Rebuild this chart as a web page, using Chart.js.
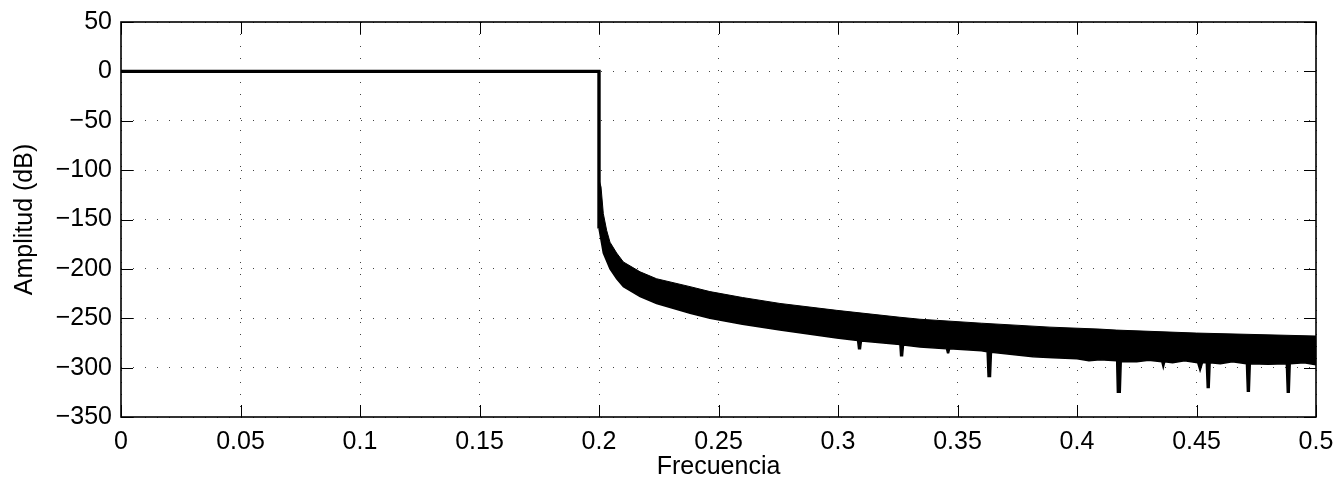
<!DOCTYPE html>
<html>
<head>
<meta charset="utf-8">
<script src="https://cdn.jsdelivr.net/npm/chart.js@4.4.1/dist/chart.umd.min.js"></script>
<style>
  html, body { margin: 0; padding: 0; background: #ffffff; }
  #wrap { width: 1335px; height: 484px; position: relative; }
</style>
</head>
<body>
<div id="wrap"><canvas id="c" width="1335" height="484"></canvas></div>
<script>
// ---- data ----
const xTicks = [0, 0.05, 0.1, 0.15, 0.2, 0.25, 0.3, 0.35, 0.4, 0.45, 0.5];
const xTickLabels = ['0', '0.05', '0.1', '0.15', '0.2', '0.25', '0.3', '0.35', '0.4', '0.45', '0.5'];
const yTicks = [50, 0, -50, -100, -150, -200, -250, -300, -350];
const yTickLabels = ['50', '0', '\u221250', '\u2212100', '\u2212150', '\u2212200', '\u2212250', '\u2212300', '\u2212350'];

// pass band (flat 0 dB) and the vertical drop at the cutoff
const passFreq = [0, 0.2, 0.2];
const passDb   = [0, 0, -159];

// upper envelope of the stop-band ripple
const upperFreq = [0.2, 0.20084, 0.2018, 0.2032, 0.2046, 0.2074, 0.2102, 0.2172, 0.2241, 0.2381, 0.2464, 0.26, 0.2757, 0.2995, 0.3259, 0.3343, 0.36, 0.3887, 0.4096, 0.4166, 0.45, 0.5];
const upperDb   = [-110, -117, -144, -161, -173, -184, -193, -203, -210, -218, -223, -229, -235, -242, -249, -251, -255, -259, -261, -262, -265, -268];

// lower envelope of the stop-band ripple (with the deep notches)
const lowerFreq = [0.2, 0.2018, 0.2046, 0.2074, 0.2102, 0.2172, 0.2241, 0.2381, 0.2464, 0.26, 0.2757, 0.2995,
  0.3082, 0.3086, 0.3094, 0.3098, 0.3259, 0.3262, 0.327, 0.3274, 0.3343, 0.3454, 0.3458, 0.3463, 0.3467, 0.36,
  0.3624, 0.3628, 0.3638, 0.3642, 0.3816, 0.39, 0.40, 0.405, 0.4096, 0.4166, 0.4169, 0.4173, 0.4181, 0.4185,
  0.425, 0.43, 0.4355, 0.4361, 0.4367, 0.44, 0.445, 0.4505, 0.4515, 0.4525, 0.4541, 0.4545, 0.4553, 0.4557,
  0.46, 0.465, 0.4709, 0.4713, 0.4721, 0.4725, 0.48, 0.4876, 0.488, 0.4888, 0.4892, 0.495, 0.5];
const lowerDb = [-159, -184, -200, -210, -218, -228, -235, -245, -250, -256, -262, -270,
  -272.5, -281, -281, -273, -276.5, -288, -288, -277, -279, -281, -285, -285, -281, -283,
  -284, -309, -309, -284.5, -289, -290, -291, -293, -292, -293, -325, -325, -325, -294,
  -294, -292.5, -294, -300, -294, -295, -293, -295, -303, -295, -295, -320, -320, -295,
  -296, -294, -296, -324, -324, -296, -296.5, -296, -325, -325, -296, -295, -297];

const pts = (xs, ys) => xs.map((x, i) => ({ x: x, y: ys[i] }));

const FONT = '"Liberation Sans", Arial, Helvetica, sans-serif';

// box + inward tick marks, MATLAB style
const boxPlugin = {
  id: 'matlabBox',
  afterDraw(chart) {
    const { ctx, chartArea: a, scales } = chart;
    ctx.save();
    ctx.strokeStyle = '#000';
    ctx.lineWidth = 1;
    const tl = 12;
    ctx.beginPath();
    xTicks.forEach(v => {
      const px = Math.round(scales.x.getPixelForValue(v)) + 0.5;
      ctx.moveTo(px, a.bottom); ctx.lineTo(px, a.bottom - tl);
      ctx.moveTo(px, a.top); ctx.lineTo(px, a.top + tl);
    });
    yTicks.forEach(v => {
      const py = Math.round(scales.y.getPixelForValue(v)) + 0.5;
      ctx.moveTo(a.left, py); ctx.lineTo(a.left + tl, py);
      ctx.moveTo(a.right, py); ctx.lineTo(a.right - tl, py);
    });
    ctx.stroke();
    ctx.lineWidth = 1.6;
    ctx.strokeRect(a.left, a.top, a.right - a.left, a.bottom - a.top);
    ctx.restore();
  }
};

new Chart(document.getElementById('c'), {
  type: 'line',
  data: {
    datasets: [
      { data: pts(passFreq, passDb), borderColor: '#000', borderWidth: 3.4, pointRadius: 0, fill: false, tension: 0 },
      { data: pts(upperFreq, upperDb), borderColor: '#000', borderWidth: 1, pointRadius: 0, fill: false, tension: 0 },
      { data: pts(lowerFreq, lowerDb), borderColor: '#000', borderWidth: 1.5, pointRadius: 0, fill: '-1', backgroundColor: '#000', tension: 0 }
    ]
  },
  options: {
    responsive: false,
    animation: false,
    devicePixelRatio: 1,
    layout: { padding: { top: 22, right: 19, left: 0, bottom: 0 } },
    plugins: { legend: { display: false }, tooltip: { enabled: false }, title: { display: false } },
    scales: {
      x: {
        type: 'linear', min: 0, max: 0.5,
        afterBuildTicks: s => { s.ticks = xTicks.map(v => ({ value: v })); },
        afterFit: s => { s.height = 67; s.paddingLeft = 0; s.paddingRight = 0; },
        ticks: {
          autoSkip: false, maxRotation: 0, color: '#000', padding: 10,
          font: { family: FONT, size: 25 },
          callback: (v, i) => xTickLabels[i]
        },
        grid: { display: true, drawTicks: false, color: '#444', lineWidth: 1 },
        border: { display: false, dash: [1, 11] },
        title: { display: true, text: 'Frecuencia', color: '#000', font: { family: FONT, size: 25 }, padding: { top: 0, bottom: 2 } }
      },
      y: {
        type: 'linear', min: -350, max: 50,
        afterBuildTicks: s => { s.ticks = yTicks.map(v => ({ value: v })); },
        afterFit: s => { s.width = 121; s.paddingTop = 0; s.paddingBottom = 0; },
        ticks: {
          autoSkip: false, color: '#000', padding: 9,
          font: { family: FONT, size: 25 },
          callback: (v, i) => yTickLabels[i]
        },
        grid: { display: true, drawTicks: false, color: '#444', lineWidth: 1 },
        border: { display: false, dash: [1, 11] },
        title: { display: true, text: 'Amplitud (dB)', color: '#000', font: { family: FONT, size: 25 }, padding: { top: 10, bottom: 0 } }
      }
    }
  },
  plugins: [boxPlugin]
});
</script>
</body>
</html>
